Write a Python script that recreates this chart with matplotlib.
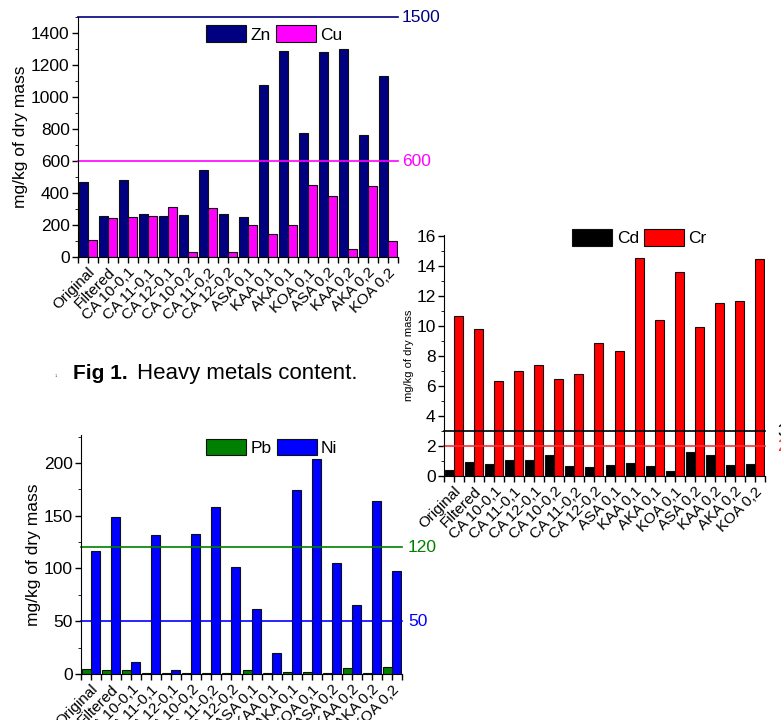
import matplotlib
matplotlib.use('Agg')
import matplotlib.pyplot as plt
from matplotlib.ticker import MultipleLocator, FixedLocator
import numpy as np

plt.rcParams['font.family'] = ['Liberation Sans', 'DejaVu Sans']

samples = ['Original', 'Filtered', 'CA 10-0,1', 'CA 11-0,1', 'CA 12-0,1',
           'CA 10-0,2', 'CA 11-0,2', 'CA 12-0,2', 'ASA 0,1', 'KAA 0,1',
           'AKA 0,1', 'KOA 0,1', 'ASA 0,2', 'KAA 0,2', 'AKA 0,2', 'KOA 0,2']

zn = [468, 255, 480, 269, 259, 263, 542, 269, 253, 1077, 1290, 777, 1279, 1302, 765, 1129]
cu = [106, 244, 250, 255, 310, 29, 306, 29, 199, 143, 203, 449, 379, 50, 443, 101]

cd = [0.40, 0.93, 0.80, 1.09, 1.04, 1.38, 0.69, 0.58, 0.71, 0.89, 0.64, 0.33, 1.58, 1.40, 0.73, 0.82]
cr = [10.72, 9.82, 6.35, 6.99, 7.44, 6.50, 6.79, 8.91, 8.33, 14.55, 10.40, 13.61, 9.96, 11.59, 11.67, 14.50]

pb = [4.7, 4.1, 3.8, 1.0, 1.0, 1.0, 1.0, 1.0, 4.1, 1.0, 1.9, 1.9, 1.0, 5.4, 1.0, 6.6]
ni = [116.2, 149, 11, 132, 3.5, 132.6, 158.7, 101.4, 61.4, 19.5, 174.5, 204, 105.5, 65.8, 164, 97.3]

# limit lines: (value, label, color)
limits_1 = [(1500, '1500', '#000080'), (600, '600', '#FF00FF')]
limits_2 = [(3, '3', '#000000'), (2, '2', '#FF3030')]
limits_3 = [(120, '120', '#008000'), (50, '50', '#0000FF')]

W, H = 781, 720
fig = plt.figure(figsize=(W / 100, H / 100), dpi=100)


def ax_at(x0, y_top, x1, y_bot):
    return fig.add_axes([x0 / W, 1 - y_bot / H, (x1 - x0) / W, (y_bot - y_top) / H])


def panel(ax, a, b, names, colors, limits, ylim, major, minor, tick_fs, lab_fs,
          xlab_fs, leg_anchor, label_off):
    x = np.arange(len(samples))
    w = 0.45
    ax.bar(x - w / 2, a, w, color=colors[0], edgecolor='#101010', linewidth=0.8, label=names[0])
    ax.bar(x + w / 2, b, w, color=colors[1], edgecolor='#101010', linewidth=0.8, label=names[1])
    ax.set_xlim(-0.5, len(samples) - 0.5)
    ax.set_ylim(*ylim)
    for s in ('top', 'right'):
        ax.spines[s].set_visible(False)
    ax.yaxis.set_major_locator(MultipleLocator(major))
    ax.yaxis.set_minor_locator(MultipleLocator(minor))
    ax.set_xticks(x)
    ax.xaxis.set_minor_locator(FixedLocator(np.arange(-0.5, len(samples), 1)))
    ax.set_xticklabels(samples, rotation=45, ha='right', va='top',
                       rotation_mode='anchor', fontsize=xlab_fs)
    ax.tick_params(axis='y', labelsize=tick_fs, length=4, width=1, pad=2)
    ax.tick_params(axis='y', which='minor', length=2.5)
    ax.tick_params(axis='x', which='both', length=4, width=1, pad=2)
    ax.set_ylabel('mg/kg of dry mass', fontsize=lab_fs, labelpad=2)
    for v, txt, c in limits:
        ax.axhline(v, color=c, linewidth=1.2, clip_on=False)
        ax.annotate(txt, xy=(1, v), xycoords=ax.get_yaxis_transform(),
                    xytext=(label_off, 0), textcoords='offset pixels',
                    va='center', ha='left', color=c, fontsize=tick_fs,
                    annotation_clip=False)
    ax.legend(loc='upper left', bbox_to_anchor=leg_anchor, ncol=2, frameon=False,
              fontsize=12.5, handlelength=2.3, handleheight=1.1,
              handletextpad=0.25, columnspacing=0.3, borderpad=0,
              borderaxespad=0)


ax1 = ax_at(78, 17, 398, 257)
panel(ax1, zn, cu, ['Zn', 'Cu'], ['#000080', '#FF00FF'], limits_1, (0, 1500),
      200, 100, 12.5, 12.5, 11, (0.40, 0.965), 4)

ax2 = ax_at(444, 235, 765, 476)
panel(ax2, cd, cr, ['Cd', 'Cr'], ['#000000', '#FF0000'], limits_2, (0, 16.1),
      2, 1, 12.5, 8, 11, (0.40, 1.025), 12)

ax3 = ax_at(81, 435, 402, 674)
panel(ax3, pb, ni, ['Pb', 'Ni'], ['#008000', '#0000FF'], limits_3, (0, 226.5),
      50, 25, 12.5, 12.5, 11, (0.39, 0.985), 6)

fig.text(73 / W, 1 - 373 / H, 'Fig 1.', fontsize=15, fontweight='bold', va='center', ha='left')
fig.text(137 / W, 1 - 373 / H, 'Heavy metals content.', fontsize=16, va='center', ha='left')
fig.text(55 / W, 1 - 376 / H, '1.', fontsize=3, color='#555555', va='center', ha='left')

fig.savefig('out.png', dpi=100)
